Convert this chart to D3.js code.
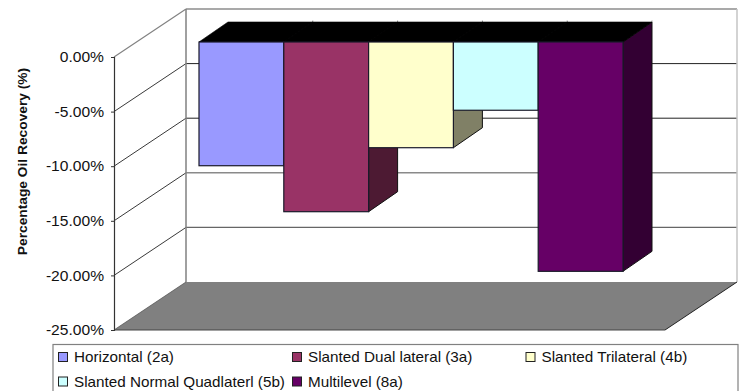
<!DOCTYPE html>
<html>
<head>
<meta charset="utf-8">
<script src="https://cdn.jsdelivr.net/npm/d3@7"></script>
<style>
html,body{margin:0;padding:0;background:#fff;overflow:hidden}
svg{display:block}
text{font-family:"Liberation Sans",Arial,sans-serif;fill:#111}
</style>
</head>
<body>
<svg id="chart" width="741" height="391"></svg>
<script>
// Oil recovery change per well configuration
const categories = ["Horizontal (2a)", "Slanted Dual lateral (3a)", "Slanted Trilateral (4b)", "Slanted Normal Quadlaterl (5b)", "Multilevel (8a)"];
const recovery = [-11.33, -15.54, -9.68, -6.25, -21.0];
const frontColors = ["#9999ff", "#993366", "#ffffcc", "#ccffff", "#660066"];
const sideColors = ["#4d4d80", "#4d1a33", "#808066", "#668080", "#330033"];
const yTicks = [0, -5, -10, -15, -20, -25];
const gridStyles = [
  {stroke: "#8c8c8c", width: 1.5},
  {stroke: "#222222", width: 1},
  {stroke: "#222222", width: 1},
  {stroke: "#8a8a8a", width: 1.5},
  {stroke: "#666666", width: 1.2},
  {stroke: "#808080", width: 1}
];

const svg = d3.select("#chart");

// Oblique projection: the back wall is shifted right and up from the front plane
const wallDx = 72, wallDy = -48;
const barOffsetDx = 22.5, barOffsetDy = -15;
const barDepthDx = 29, barDepthDy = -20;

const y = d3.scaleLinear().domain([0, -25]).range([57, 330]);
const plotLeft = 114, plotRight = 665;
const x = d3.scaleBand().domain(categories).range([176.5, 600.5]).paddingInner(0).paddingOuter(0);

const line = (x1, y1, x2, y2, stroke, width) =>
  svg.append("line").attr("x1", x1).attr("y1", y1).attr("x2", x2).attr("y2", y2)
    .attr("stroke", stroke).attr("stroke-width", width);
const poly = (pts, fill, stroke, width) =>
  svg.append("polygon").attr("points", pts.map(p => p.join(",")).join(" "))
    .attr("fill", fill).attr("stroke", stroke || "none").attr("stroke-width", width || 0)
    .attr("stroke-linejoin", "miter");

// Floor
const floorY = y(-25);
poly([[plotLeft, floorY], [plotLeft + wallDx, floorY + wallDy], [plotRight + wallDx, floorY + wallDy], [plotRight, floorY]], "#808080");

// Side wall diagonals and back wall gridlines
yTicks.forEach((t, i) => {
  const s = gridStyles[i];
  if (t !== -25) {
    line(plotLeft, y(t), plotLeft + wallDx, y(t) + wallDy, i === 0 ? "#808080" : "#222", i === 0 ? 1.2 : 0.9);
    line(plotLeft + wallDx, y(t) + wallDy, plotRight + wallDx, y(t) + wallDy, s.stroke, s.width);
  }
});
line(plotLeft + wallDx, y(0) + wallDy, plotLeft + wallDx, floorY + wallDy, "#808080", 1.5);
line(plotRight + wallDx, y(0) + wallDy, plotRight + wallDx, floorY + wallDy, "#c4c4c4", 1.5);

// Floor edges
line(plotLeft, floorY, plotRight, floorY, "#444", 1);
line(plotRight, floorY, plotRight + wallDx, floorY + wallDy, "#222", 1);
line(plotLeft, floorY, plotLeft + wallDx, floorY + wallDy, "#555", 0.8);

// Bars, left to right so each covers the side of its neighbour
const topY = y(0) + barOffsetDy;
categories.forEach((c, i) => {
  const x0 = x(c) + barOffsetDx, x1 = x0 + x.bandwidth();
  const bottom = y(recovery[i]) + barOffsetDy;
  poly([[x1, topY], [x1 + barDepthDx, topY + barDepthDy], [x1 + barDepthDx, bottom + barDepthDy], [x1, bottom]], sideColors[i], "#111", 1);
});
// Black top faces, with only a small tick at each seam on the rear edge
categories.forEach((c, i) => {
  const x0 = x(c) + barOffsetDx, x1 = x0 + x.bandwidth();
  poly([[x0, topY], [x0 + barDepthDx, topY + barDepthDy], [x1 + barDepthDx, topY + barDepthDy], [x1, topY]], "#000", "#000", 0.6);
  line(x1 + barDepthDx, topY + barDepthDy - 1.5, x1 + barDepthDx, topY + barDepthDy, "#888", 0.8);
});
categories.forEach((c, i) => {
  const x0 = x(c) + barOffsetDx, x1 = x0 + x.bandwidth();
  const bottom = y(recovery[i]) + barOffsetDy;
  svg.append("rect").attr("x", x0).attr("y", topY).attr("width", x1 - x0).attr("height", bottom - topY)
    .attr("fill", frontColors[i]).attr("stroke", "#1a1a2a").attr("stroke-width", 1.2);
});

// Value axis on the front plane; labels use a plain hyphen for the sign
const axis = d3.axisLeft(y).tickValues(yTicks).tickSize(3).tickPadding(6)
  .tickFormat(d => d.toFixed(2) + "%");
const axisG = svg.append("g").attr("transform", `translate(${plotLeft},0)`).call(axis);
axisG.select(".domain").attr("stroke", "#333").attr("stroke-width", 1.2);
axisG.selectAll(".tick line").attr("stroke", "#333");
axisG.selectAll("text").attr("font-size", 14).attr("fill", "#222")
  .attr("x", 0).attr("dy", "0.34em")
  .attr("transform", "translate(-10,0) scale(1.115,1)")
  .style("font-family", '"Liberation Sans",Arial,sans-serif');

// Axis title
svg.append("text").attr("transform", "translate(26.5,161.5) rotate(-90) scale(1.06,1)")
  .attr("text-anchor", "middle").attr("font-size", 13).attr("font-weight", "bold")
  .text("Percentage Oil Recovery (%)");

// Legend
svg.append("rect").attr("x", 53).attr("y", 344.5).attr("width", 685).attr("height", 60)
  .attr("fill", "#fff").attr("stroke", "#808080").attr("stroke-width", 1.2);
const legendX = [58.5, 292.5, 526, 58.5, 292.5];
const legendY = [357, 357, 357, 381.5, 381.5];
categories.forEach((c, i) => {
  svg.append("rect").attr("x", legendX[i]).attr("y", legendY[i] - 4.5).attr("width", 9).attr("height", 9)
    .attr("fill", frontColors[i]).attr("stroke", "#222").attr("stroke-width", 1);
  svg.append("text").attr("transform", `translate(${legendX[i] + 15.5},${legendY[i] + 5}) scale(1.09,1)`)
    .attr("font-size", 14).attr("fill", "#222").text(c);
});
</script>
</body>
</html>
